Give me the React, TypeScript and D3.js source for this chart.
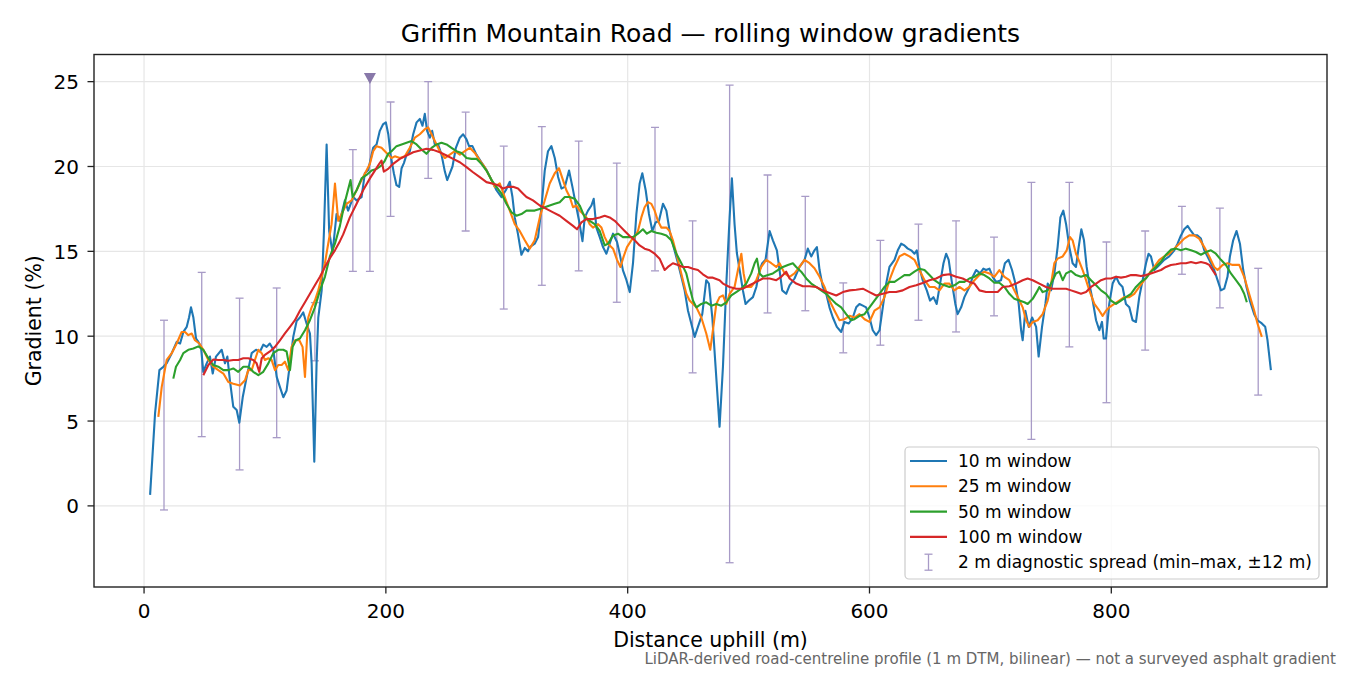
import React from 'react';
import * as d3 from 'd3';

// rolling-window gradient profiles, [distance m, gradient %]
const blue10: [number, number][] = [
  [5, 0.65], [9.1, 5.45], [12.7, 8.0], [16, 8.2], [18.7, 8.4], [22.9, 9.0], [27, 9.66], [29.8, 9.57], [32.5, 10.25], [35.3, 10.55],
  [37.2, 11.1], [38.8, 11.7], [40.8, 11.1], [43, 9.86], [44.9, 9.66], [47.1, 9.37], [49, 7.9], [51.8, 8.4], [54.5, 8.8], [56.8, 7.8],
  [59.5, 8.8], [64.2, 9.2], [66.9, 8.4], [68.9, 8.8], [71, 7.4], [73.8, 5.84], [76.6, 5.65], [78.8, 4.9], [81.6, 6.4], [84.9, 7.6],
  [89, 9.0], [92.6, 9.2], [95.9, 9.1], [98.6, 9.5], [101.4, 9.37], [104, 9.57], [106.9, 9.2], [109.7, 7.6], [112.4, 7.0], [115.2, 6.4],
  [117.9, 6.8], [120.7, 8.4], [123.4, 9.96], [126.2, 10.9], [128.9, 11.1], [131.7, 11.4], [134.4, 10.75], [137.2, 10.16], [138.6, 8.4], [139.9, 5.06],
  [140.8, 2.6], [142.7, 8.4], [144.1, 11.1], [146.9, 12.7], [148.8, 16.2], [151, 21.3], [153.1, 16.2], [155.9, 14.9], [159.2, 17.2], [162, 16.8],
  [166.1, 18.0], [168.8, 17.4], [173, 18.2], [175.8, 18.0], [179.9, 18.2], [182.6, 19.6], [185.4, 19.8], [189.5, 21.1], [192.3, 21.3], [195, 22.1],
  [197.8, 22.5], [200, 22.6], [202, 21.9], [203.9, 20.7], [206.6, 19.6], [208.8, 18.9], [211, 18.8], [213, 19.9], [214.9, 20.2], [217.1, 20.7],
  [219.8, 20.9], [222.6, 21.9], [225.4, 22.6], [228.1, 22.8], [230.3, 22.4], [232.2, 23.1], [234.1, 22.1], [236.4, 21.7], [238.3, 22.1], [240.5, 21.3],
  [243.2, 21.3], [246, 20.7], [248.8, 19.7], [250.7, 19.2], [252.9, 19.6], [255.1, 20.0], [257.9, 21.1], [261.2, 21.7], [263.9, 21.9], [266.7, 21.6],
  [268.8, 21.2], [271.6, 21.2], [274.9, 20.7], [279, 20.25], [283.2, 19.8], [287.4, 19.2], [291.5, 18.6], [295.6, 18.2], [299.2, 18.6], [302.5, 19.1],
  [304.7, 18.2], [306.6, 17.0], [309.3, 16.0], [312.1, 14.8], [314.9, 15.2], [317.6, 15.0], [319, 15.25], [323.1, 15.45], [325.9, 15.84], [328.7, 17.6],
  [331.4, 19.76], [334.1, 20.9], [336.9, 21.2], [339.7, 20.5], [342.4, 19.4], [345.2, 18.7], [348, 18.8], [351.5, 19.76], [354.3, 18.8], [357, 17.8],
  [359.8, 16.8], [362.6, 15.6], [364.5, 17.0], [367.2, 17.4], [370, 17.7], [371.9, 18.1], [374.1, 16.4], [376.9, 15.84], [379.6, 15.25], [382.4, 14.86],
  [385.1, 15.45], [387.9, 16.04], [391.2, 15.55], [393.4, 14.86], [396.1, 13.88], [399, 13.3], [401.7, 12.6], [404.4, 14.3], [407.2, 17.2], [409.9, 19.0],
  [412.1, 19.6], [414.9, 18.6], [417.6, 17.2], [420.4, 16.2], [423.1, 16.7], [425.9, 16.8], [429.2, 17.8], [432, 17.4], [434.7, 16.2], [438, 15.25],
  [441.6, 14.3], [444.4, 13.5], [447.1, 12.7], [449.9, 11.5], [452.6, 10.75], [455.4, 9.96], [458.1, 10.55], [461.7, 11.3], [465, 13.3], [467.2, 13.1],
  [470, 11.1], [472.7, 8.2], [476, 4.66], [478.8, 8.2], [481.6, 13.1], [484.3, 17.0], [486.2, 19.3], [488.4, 16.6], [490.3, 14.9], [492.6, 13.9],
  [495.3, 12.7], [497.5, 11.9], [500.3, 12.1], [503.6, 12.3], [506.4, 12.9], [509.1, 13.9], [511.3, 14.3], [514, 14.5], [517.4, 16.2], [520.1, 15.65],
  [523.4, 15.06], [525.6, 13.9], [527.8, 12.7], [531.1, 12.5], [533.9, 13.0], [538, 13.4], [542.1, 14.08], [546.3, 14.5], [549, 15.16], [551.8, 14.7],
  [554.5, 15.06], [556.5, 15.25], [558.7, 13.9], [561.4, 12.9], [564.2, 12.5], [566.9, 11.7], [569.7, 11.1], [573, 10.55], [576.6, 10.25], [579.3, 10.84],
  [582.9, 10.75], [586.2, 11.1], [589, 11.7], [591.7, 11.9], [594.5, 11.8], [597.2, 11.7], [600, 11.1], [602.7, 10.35], [605.5, 10.06], [608.3, 10.35],
  [611, 11.7], [613.8, 13.1], [616.5, 14.08], [620.7, 14.5], [623.4, 15.06], [626.2, 15.45], [628.9, 15.35], [631.7, 15.16], [634.5, 15.06], [637.2, 14.86],
  [639.1, 15.06], [641.3, 14.08], [644, 13.3], [647.4, 12.7], [650.1, 12.1], [652.9, 12.3], [655.6, 11.9], [658.4, 13.1], [661.2, 14.3], [663.4, 14.86],
  [665.5, 14.5], [668.3, 13.1], [671, 11.9], [672.9, 11.3], [675.8, 11.7], [678.5, 12.3], [682.6, 12.9], [685.4, 13.5], [688.2, 13.9], [691.5, 13.7],
  [694.2, 13.98], [696.4, 13.9], [699.2, 13.98], [701.9, 13.5], [704.7, 13.2], [708.8, 13.3], [712, 14.3], [715, 14.5], [717.9, 13.9], [720.7, 13.1],
  [723.4, 11.9], [725.4, 10.35], [726.7, 9.76], [728.9, 11.5], [731.7, 10.55], [734.5, 11.1], [737.8, 10.55], [739.9, 8.8], [742.7, 10.55], [745.5, 11.9],
  [747.4, 13.1], [750.2, 12.7], [752.9, 13.7], [755.6, 15.25], [757.9, 17.0], [760.3, 17.4], [762.6, 16.6], [765.3, 15.25], [768, 14.3], [770.8, 14.08],
  [773, 15.25], [775.2, 16.3], [777.4, 15.65], [779.6, 14.08], [781.8, 13.1], [784.6, 12.1], [787.4, 10.94], [790.1, 10.35], [792.3, 10.84], [793.7, 9.86],
  [795.6, 9.86], [798.3, 11.9], [801.1, 13.1], [803.9, 13.5], [806.6, 13.1], [809.3, 12.9], [812.1, 11.9], [814.9, 11.7], [817.6, 10.94], [820.4, 10.84],
  [823.1, 12.3], [825.9, 13.3], [828.7, 14.3], [830.8, 14.86], [832.8, 14.7], [835.5, 13.9], [839.7, 14.2], [843.8, 14.5], [847.9, 14.7], [852.1, 15.06],
  [854.8, 15.45], [857.6, 15.94], [860.3, 16.3], [863.1, 16.5], [865.9, 16.2], [868.6, 15.94], [871.3, 15.94], [874.1, 15.75], [876.9, 15.06], [879.6, 14.7],
  [882.4, 14.3], [885.1, 13.9], [887.9, 13.3], [890.7, 12.7], [893.4, 12.8], [896.1, 13.5], [898.1, 14.7], [900.8, 15.65], [903.6, 16.2], [906.4, 15.45],
  [909.1, 13.9], [911.8, 12.9], [914.6, 12.1], [918.2, 11.3], [920.9, 10.94], [924.5, 10.75], [927.3, 10.55], [929.2, 9.76], [932, 8.0],
];

const orange25: [number, number][] = [
  [11.8, 5.25], [14.6, 7.0], [18.7, 8.6], [22.9, 9.0], [27, 9.57], [31.1, 10.25], [33.9, 10.25], [36.6, 10.06], [39.4, 10.16], [42.1, 9.76],
  [45.7, 9.57], [49, 9.2], [53.2, 8.6], [57.3, 8.2], [61.4, 8.0], [65.6, 7.8], [69.7, 7.3], [73.8, 7.2], [79.3, 7.1], [83.5, 7.4],
  [86.2, 8.0], [89, 8.0], [91.7, 8.6], [94.5, 9.2], [97.3, 9.0], [100, 8.6], [102.8, 8.7], [105.5, 8.6], [108.3, 8.0], [111, 8.3],
  [113.8, 8.3], [116.5, 8.5], [119.3, 8.0], [122, 9.37], [124.8, 9.76], [128.4, 9.76], [131.1, 9.37], [133.1, 7.6], [134.4, 9.37], [135.8, 11.1],
  [138.6, 11.7], [141.3, 12.1], [144.1, 12.7], [146.9, 13.5], [149.6, 14.3], [152.3, 15.45], [155.1, 16.6], [157.9, 19.0], [160.6, 16.8], [163.4, 17.2],
  [167.5, 17.8], [171.6, 18.0], [175.8, 18.6], [179.9, 19.2], [184, 19.76], [186.8, 20.16], [189.5, 20.9], [192.3, 21.2], [196.4, 21.1], [199.2, 20.9],
  [201.9, 20.7], [204.7, 20.5], [207.4, 20.6], [211.6, 20.5], [215.7, 20.6], [219.8, 21.1], [224, 21.7], [228.1, 21.9], [232.2, 22.2], [235, 22.3],
  [237.8, 21.9], [240.5, 21.5], [244.6, 20.9], [248.8, 20.5], [252.9, 20.7], [257, 20.9], [261.2, 20.7], [265.3, 20.9], [269.4, 21.1], [273.6, 20.8],
  [277.7, 20.35], [281.8, 19.96], [286, 19.4], [290.1, 18.8], [294.2, 19.0], [298.3, 18.2], [302.5, 17.4], [306.6, 16.6], [310.7, 16.2], [314.9, 15.65],
  [319, 15.16], [323.1, 15.65], [327.3, 17.0], [331.4, 18.0], [335.5, 19.0], [339.7, 19.6], [343.2, 19.9], [346.5, 19.2], [349.3, 18.6], [352.1, 18.2],
  [354.8, 17.6], [357.6, 17.7], [360.3, 17.4], [363.1, 17.2], [365.9, 17.0], [368.6, 16.6], [371.3, 16.4], [375.5, 16.6], [378.3, 16.4], [381, 15.84],
  [383.7, 15.45], [387.9, 15.16], [391.2, 14.5], [394, 14.08], [396.7, 14.7], [399.4, 15.25], [403, 15.65], [405.8, 15.84], [408.5, 16.2], [411.3, 17.0],
  [414, 17.6], [416.8, 17.9], [419.6, 17.8], [422.3, 17.4], [425, 16.8], [427.8, 16.4], [432, 16.4], [434.7, 16.2], [437.4, 15.65], [440.3, 14.86],
  [443, 14.08], [445.7, 13.3], [448.5, 12.5], [451.2, 12.1], [456.8, 11.7], [460.9, 11.1], [465, 10.16], [468.3, 9.2], [470.5, 10.35], [473.3, 11.9],
  [476, 12.3], [478.8, 12.4], [481.6, 11.9], [484.3, 12.5], [488.4, 12.9], [491.2, 13.9], [494, 14.86], [495.9, 13.7], [498, 12.9], [502.2, 12.9],
  [506.4, 13.3], [510.5, 14.08], [514.6, 14.5], [518.8, 14.3], [522.9, 14.08], [525.6, 14.3], [529.8, 13.7], [533.9, 13.5], [538, 13.7], [542.1, 14.08],
  [546.3, 14.5], [550.4, 14.3], [554.5, 14.0], [558.7, 13.5], [562.8, 12.9], [566.9, 12.1], [571.1, 11.5], [575.2, 10.94], [579.3, 11.0], [583.5, 11.2],
  [587.6, 11.1], [591.7, 11.3], [595.9, 11.0], [600, 10.84], [604.1, 11.5], [608.3, 11.7], [612.4, 12.3], [616.5, 13.3], [620.7, 14.08], [624.8, 14.7],
  [628.9, 14.86], [633.1, 14.7], [637.2, 14.5], [641.3, 13.9], [645.5, 13.3], [649.6, 12.9], [653.7, 12.9], [657.9, 12.7], [662, 13.1], [666.1, 13.1],
  [670.2, 12.7], [674.4, 12.9], [678.5, 12.7], [682.6, 12.9], [686.8, 13.3], [690.9, 13.6], [695, 13.8], [699.2, 13.7], [703.3, 13.5], [707.4, 13.9],
  [711.6, 13.5], [715.7, 13.3], [719.8, 12.7], [724, 12.1], [726.7, 11.7], [729.5, 10.94], [732.2, 10.55], [735, 10.84], [739.1, 10.94], [743.2, 11.3],
  [747.4, 12.1], [750.2, 13.1], [752.9, 14.3], [755.6, 14.57], [759.8, 14.7], [763.1, 15.06], [765.9, 15.84], [768, 15.65], [770.8, 14.86], [773, 14.5],
  [776.3, 13.9], [779.1, 13.3], [781.8, 12.7], [786, 11.9], [790.1, 11.5], [792.8, 11.2], [795.6, 11.5], [798.3, 11.7], [802.5, 11.9], [806.6, 12.1],
  [810.7, 12.3], [814.9, 12.3], [819, 12.5], [823.1, 12.9], [827.3, 13.3], [831.4, 13.7], [835.5, 14.08], [839.7, 14.5], [843.8, 14.7], [847.9, 14.86],
  [852.1, 15.16], [856.2, 15.45], [860.3, 15.75], [864.5, 15.94], [868.6, 15.94], [872.7, 15.75], [876.9, 15.25], [881, 14.7], [885.1, 14.08], [887.9, 13.9],
  [892, 14.2], [896.1, 14.3], [900.3, 14.2], [905.8, 14.2], [909.9, 13.5], [914, 12.5], [918.2, 11.5], [920.9, 10.75], [924.5, 9.96],
];

const green50: [number, number][] = [
  [24.2, 7.5], [26.4, 8.2], [29.8, 8.6], [32.5, 9.0], [36.6, 9.2], [40.8, 9.27], [44.9, 9.4], [49, 9.2], [53.2, 8.7], [57.3, 8.3],
  [61.4, 8.2], [65.6, 8.0], [69.7, 8.0], [73.8, 8.1], [77.9, 7.9], [82.1, 8.2], [86.2, 8.2], [90.3, 7.9], [94.5, 7.7], [98.6, 7.9],
  [102.8, 8.4], [106.9, 9.0], [111, 9.2], [115.2, 9.2], [117.9, 9.1], [120.7, 8.0], [122.9, 9.37], [125.6, 9.76], [128.9, 9.86], [133.1, 10.35],
  [137.2, 10.94], [141.3, 11.7], [145.5, 12.7], [149.6, 13.5], [153.7, 14.7], [157.9, 15.45], [162, 16.5], [166.1, 17.9], [170.8, 19.2], [172.5, 18.2],
  [175.8, 18.6], [179.9, 19.3], [184, 19.5], [188.2, 19.76], [192.3, 19.86], [196.4, 20.06], [199.2, 20.35], [201.9, 20.75], [204.7, 20.9], [208.8, 21.2],
  [213, 21.3], [217.1, 21.4], [221.2, 21.5], [225.4, 21.3], [229.5, 21.0], [233.6, 20.75], [237.8, 21.1], [241.9, 21.3], [246, 21.4], [250.2, 21.3],
  [254.3, 21.1], [258.4, 20.9], [262.6, 20.8], [266.7, 20.5], [270.8, 20.45], [274.9, 20.45], [279, 20.16], [283.2, 19.76], [287.4, 19.2], [291.5, 18.8],
  [295.6, 18.4], [299.7, 17.8], [303.9, 17.3], [308, 17.1], [312.1, 17.2], [316.3, 17.4], [319, 17.4], [323.1, 17.4], [327.3, 17.5], [331.4, 17.6],
  [335.5, 17.7], [339.7, 17.8], [343.8, 17.9], [348, 18.2], [352, 18.2], [356.2, 18.1], [360.3, 17.7], [364.5, 17.0], [368.6, 16.8], [372.7, 16.6],
  [376.9, 16.2], [381, 15.35], [383.7, 15.45], [387.9, 15.94], [392, 16.04], [396.1, 15.84], [400.2, 15.84], [404.4, 15.84], [408.5, 16.04], [412.6, 16.3],
  [415.9, 16.04], [419.6, 16.2], [423.7, 16.1], [427.8, 16.04], [432, 15.94], [436.1, 15.65], [440.3, 14.86], [444.4, 14.3], [448.5, 13.7], [451.2, 12.9],
  [454, 12.1], [456.8, 11.7], [460.9, 11.9], [465, 12.0], [469.2, 11.8], [473.3, 11.9], [477.4, 11.8], [481.6, 12.0], [485.7, 12.4], [489.8, 12.6],
  [494, 12.8], [498.1, 13.1], [502.2, 13.7], [505, 14.3], [506.9, 14.57], [509.1, 13.7], [511.8, 13.5], [516, 13.6], [520.1, 13.7], [524.2, 13.9],
  [528.4, 14.08], [532.5, 14.2], [536.6, 14.3], [539.4, 14.08], [543.5, 13.8], [547.7, 13.4], [551.8, 13.1], [555.9, 12.9], [560, 12.7], [564.2, 12.5],
  [568.3, 12.2], [572.5, 11.9], [576.6, 11.7], [580.7, 11.3], [584.9, 10.94], [587.6, 11.0], [591.7, 11.2], [595.9, 11.3], [600, 11.7], [604.1, 12.1],
  [608.3, 12.5], [612.4, 12.9], [616.5, 13.2], [620.7, 13.2], [624.8, 13.4], [628.9, 13.6], [633.1, 13.6], [637.2, 13.8], [641.3, 13.98], [645.5, 13.9],
  [649.6, 13.6], [653.7, 13.3], [657.9, 13.1], [662, 13.0], [666.1, 12.9], [670.2, 13.0], [674.4, 13.2], [678.5, 13.2], [682.6, 13.4], [686.8, 13.5],
  [690.9, 13.7], [695, 13.6], [699.2, 13.4], [703.3, 13.15], [707.4, 13.15], [711.6, 12.9], [715.7, 12.5], [719.8, 12.2], [724, 12.1], [728.1, 12.0],
  [730.8, 11.9], [735, 12.2], [739.1, 12.7], [740.5, 12.9], [743.2, 12.6], [747.4, 12.7], [751.5, 13.3], [754.3, 13.7], [757, 13.8], [759.8, 13.3],
  [762.6, 13.7], [766.7, 13.84], [770.8, 13.6], [774.9, 13.5], [779.1, 13.6], [783.2, 13.3], [787.4, 13.0], [791.5, 12.7], [795.6, 12.5], [799.8, 12.1],
  [803.9, 11.9], [808, 12.1], [812.1, 12.3], [816.3, 12.5], [820.4, 12.9], [824.5, 13.2], [828.7, 13.4], [832.8, 13.8], [836.9, 14.08], [841.1, 14.4],
  [845.2, 14.8], [849.3, 15.1], [853.5, 15.16], [857.6, 15.06], [861.7, 15.16], [865.9, 15.06], [870, 14.96], [874.1, 14.8], [878.3, 14.96], [882.4, 15.06],
  [886.5, 14.86], [890.7, 14.5], [894.8, 14.2], [898.9, 13.7], [903.1, 13.3], [907.2, 12.9], [909.9, 12.5], [912.1, 12.0],
];

const red100: [number, number][] = [
  [49, 7.7], [53.2, 8.3], [57.3, 8.63], [61.4, 8.6], [65.6, 8.6], [69.7, 8.55], [73.8, 8.6], [77.9, 8.6], [82.1, 8.7], [86.2, 8.7],
  [90.3, 8.6], [93.1, 8.4], [95.3, 7.9], [97.3, 8.7], [100, 8.9], [104.1, 9.1], [108.3, 9.37], [112.4, 9.76], [116.5, 10.16], [120.7, 10.55],
  [124.8, 10.94], [128.9, 11.5], [133.1, 12.0], [137.2, 12.5], [141.3, 13.0], [145.5, 13.5], [149.6, 14.08], [153.7, 14.6], [157.9, 15.06], [162, 15.6],
  [164.7, 16.0], [170.2, 17.0], [175.8, 17.8], [181.2, 18.6], [186.8, 19.3], [190.9, 19.76], [194.5, 20.16], [196.4, 20.35], [198.3, 19.7], [201.9, 19.86],
  [206, 20.16], [211.6, 20.45], [217.1, 20.65], [222.6, 20.84], [228.1, 20.94], [233.6, 21.04], [239.1, 20.98], [244.6, 20.84], [250.2, 20.65], [255.6, 20.45],
  [261.2, 20.25], [266.7, 19.96], [272.1, 19.66], [277.7, 19.37], [283.2, 19.08], [288.7, 18.98], [292.8, 18.9], [297, 18.7], [301.1, 18.8], [305.2, 18.8],
  [309.3, 18.7], [313.5, 18.4], [316.3, 18.2], [321.7, 18.0], [327.3, 17.7], [332.8, 17.5], [338.3, 17.3], [343.8, 17.1], [349.3, 16.8], [354.8, 16.5],
  [358.1, 16.3], [361.7, 16.7], [365.9, 16.9], [371.3, 16.9], [376.9, 17.0], [381, 17.1], [385.1, 17.0], [389.3, 16.8], [393.4, 16.5], [397.5, 16.2],
  [401.7, 15.9], [405.8, 15.65], [409.9, 15.35], [414, 15.16], [418.2, 15.06], [422.3, 14.86], [426.4, 14.57], [430.6, 13.9], [433.3, 14.08], [437.4, 14.3],
  [441.6, 14.2], [445.7, 14.08], [449.9, 14.08], [454, 13.98], [458.1, 13.9], [462.2, 13.65], [466.4, 13.45], [470.5, 13.45], [476, 13.3], [478.8, 13.1],
  [484.3, 12.9], [489.8, 12.8], [495.3, 12.8], [500.8, 13.0], [506.4, 13.2], [511.8, 13.4], [517.4, 13.4], [522.9, 13.3], [527, 13.5], [531.1, 13.8],
  [533.9, 13.4], [539.4, 13.1], [544.9, 12.94], [550.4, 12.94], [555.9, 12.9], [561.4, 12.7], [566.9, 12.55], [572.5, 12.4], [578, 12.6], [583.5, 12.7],
  [589, 12.74], [594.5, 12.8], [600, 12.6], [605.5, 12.4], [611, 12.5], [616.5, 12.6], [622, 12.6], [627.5, 12.7], [633.1, 12.9], [638.6, 13.0],
  [644, 13.14], [649.6, 13.3], [655.1, 13.4], [660.6, 13.6], [666.1, 13.65], [671.6, 13.5], [677.1, 13.4], [682.6, 13.2], [686.8, 13.1], [690.9, 12.7],
  [696.4, 12.6], [701.9, 12.6], [706, 12.6], [710.2, 12.9], [715.7, 12.94], [721.2, 13.1], [726.7, 13.3], [730.8, 13.4], [735, 13.3], [740.5, 13.1],
  [746, 12.9], [751.5, 12.8], [757, 12.8], [762.6, 12.8], [766.7, 12.7], [770.8, 12.6], [774.9, 12.5], [779.1, 12.6], [783.2, 12.9], [787.4, 13.1],
  [791.5, 13.3], [795.6, 13.4], [799.8, 13.4], [803.9, 13.5], [808, 13.45], [812.1, 13.5], [816.3, 13.6], [820.4, 13.6], [824.5, 13.55], [828.7, 13.6],
  [832.8, 13.7], [836.9, 13.8], [841.1, 13.9], [845.2, 14.08], [849.3, 14.2], [853.5, 14.24], [857.6, 14.3], [861.7, 14.3], [865.9, 14.37], [870, 14.3],
  [874.1, 14.37], [878.3, 14.3], [881, 14.2], [883.7, 13.9], [886.5, 13.6],
];

// 2 m diagnostic spread (min–max within ±12 m)
const spreadX = [16.5, 47.7, 79, 109.7, 141.3, 172.7, 186.8, 203.9, 235, 266, 297.5, 329, 359.5, 391, 422.6, 453.7, 484.3, 515.7, 546.9, 578.3, 609, 640.5, 671.6, 703, 733.9, 765.3, 796, 828, 858.4, 889.8, 921.5];
const spreadLo = [-0.24, 4.08, 2.12, 4.02, 8.55, 13.82, 13.82, 17.06, 19.3, 16.2, 11.6, 13.0, 13.85, 12.0, 13.85, 7.84, -3.35, 11.37, 11.5, 9.02, 9.47, 10.94, 10.25, 11.2, 3.92, 9.37, 6.08, 9.18, 13.65, 11.67, 6.53];
const spreadHi = [10.94, 13.76, 12.24, 12.84, 11.98, 21.0, 25.15, 23.8, 25.0, 23.2, 21.2, 22.35, 21.5, 20.2, 22.3, 16.8, 24.8, 19.5, 18.24, 13.14, 15.65, 16.6, 16.8, 15.84, 19.06, 19.06, 15.55, 16.2, 17.65, 17.55, 14.0];
const clipLimit = 25.1;

const xTicks = [0, 200, 400, 600, 800];
const yTicks = [0, 5, 10, 15, 20, 25];
const seriesNames = ['10 m window', '25 m window', '50 m window', '100 m window'];
const seriesColors = ['#1f77b4', '#ff7f0e', '#2ca02c', '#d62728'];
const spreadLabel = '2 m diagnostic spread (min\u2013max, \u00b112 m)';

const W = 1350, H = 675;
const L = 94, R = 1327, T = 54.5, B = 587;
const font = '"DejaVu Sans", sans-serif';
const spreadColor = '#a89bc7';

export default function App() {
  const x = d3.scaleLinear().domain([-41.4, 978.4]).range([L, R]);
  const y = d3.scaleLinear().domain([-4.78, 26.6]).range([B, T]);
  const line = d3.line<[number, number]>().x(d => x(d[0])).y(d => y(d[1]));
  const series = [blue10, orange25, green50, red100];

  const lx = 905, ly = 447, lw = 414, lh = 132;
  const rowY = (i: number) => 461 + i * 25.3;

  return (
    <svg width={W} height={H} style={{ position: 'absolute', left: 0, top: 0, background: '#fff' }} fontFamily={font}>
      <defs>
        <clipPath id="plot"><rect x={L} y={T} width={R - L} height={B - T} /></clipPath>
      </defs>
      <rect x={0} y={0} width={W} height={H} fill="#fff" />

      {/* grid */}
      {xTicks.map(t => <line key={'gx' + t} x1={x(t)} x2={x(t)} y1={T} y2={B} stroke="#e6e6e6" strokeWidth={1.2} />)}
      {yTicks.map(t => <line key={'gy' + t} x1={L} x2={R} y1={y(t)} y2={y(t)} stroke="#e6e6e6" strokeWidth={1.2} />)}

      <g clipPath="url(#plot)">
        {/* spread bars */}
        {spreadX.map((m, i) => {
          const cx = x(m);
          const clipped = spreadHi[i] >= clipLimit;
          return (
            <g key={'sb' + i} stroke={spreadColor} strokeWidth={1.3}>
              <line x1={cx} x2={cx} y1={y(spreadLo[i])} y2={y(spreadHi[i])} />
              <line x1={cx - 4} x2={cx + 4} y1={y(spreadLo[i])} y2={y(spreadLo[i])} />
              {!clipped && <line x1={cx - 4} x2={cx + 4} y1={y(spreadHi[i])} y2={y(spreadHi[i])} />}
            </g>
          );
        })}
        {spreadX.map((m, i) => spreadHi[i] >= clipLimit ? (
          <path key={'tri' + i} d={`M${x(m) - 6},${y(spreadHi[i]) - 6} L${x(m) + 6},${y(spreadHi[i]) - 6} L${x(m)},${y(spreadHi[i]) + 5} Z`} fill="#8878a9" />
        ) : null)}

        {series.map((s, i) => (
          <path key={'s' + i} d={line(s) || ''} fill="none" stroke={seriesColors[i]} strokeWidth={2.1} strokeLinejoin="round" />
        ))}
      </g>

      {/* frame */}
      <rect x={L} y={T} width={R - L} height={B - T} fill="none" stroke="#222" strokeWidth={1.4} />

      {/* ticks */}
      {xTicks.map(t => (
        <g key={'xt' + t}>
          <line x1={x(t)} x2={x(t)} y1={B} y2={B + 6.5} stroke="#222" strokeWidth={1.3} />
          <text x={x(t)} y={B + 31} textAnchor="middle" fontSize={20} fill="#000">{t}</text>
        </g>
      ))}
      {yTicks.map(t => (
        <g key={'yt' + t}>
          <line x1={L - 6.5} x2={L} y1={y(t)} y2={y(t)} stroke="#222" strokeWidth={1.3} />
          <text x={L - 15} y={y(t) + 7.5} textAnchor="end" fontSize={20} fill="#000">{t}</text>
        </g>
      ))}

      <text x={(L + R) / 2} y={42} textAnchor="middle" fontSize={25} fill="#000">Griffin Mountain Road — rolling window gradients</text>
      <text x={(L + R) / 2} y={647} textAnchor="middle" fontSize={20.5} fill="#000">Distance uphill (m)</text>
      <text transform={`translate(41,${(T + B) / 2}) rotate(-90)`} textAnchor="middle" fontSize={20.5} fill="#000">Gradient (%)</text>
      <text x={1336} y={664} textAnchor="end" fontSize={15} fill="#666">LiDAR-derived road-centreline profile (1 m DTM, bilinear) — not a surveyed asphalt gradient</text>

      {/* legend */}
      <rect x={lx} y={ly} width={lw} height={lh} rx={4} fill="#fff" fillOpacity={0.8} stroke="#cccccc" strokeWidth={1.2} />
      {seriesNames.map((n, i) => (
        <g key={'lg' + i}>
          <line x1={910} x2={947} y1={rowY(i)} y2={rowY(i)} stroke={seriesColors[i]} strokeWidth={2.1} />
          <text x={958} y={rowY(i) + 6} fontSize={17} fill="#000">{n}</text>
        </g>
      ))}
      <g stroke={spreadColor} strokeWidth={1.3}>
        <line x1={928.5} x2={928.5} y1={rowY(4) - 8} y2={rowY(4) + 8} />
        <line x1={924.5} x2={932.5} y1={rowY(4) - 8} y2={rowY(4) - 8} />
        <line x1={924.5} x2={932.5} y1={rowY(4) + 8} y2={rowY(4) + 8} />
      </g>
      <text x={958} y={rowY(4) + 6} fontSize={17} fill="#000">{spreadLabel}</text>
    </svg>
  );
}
